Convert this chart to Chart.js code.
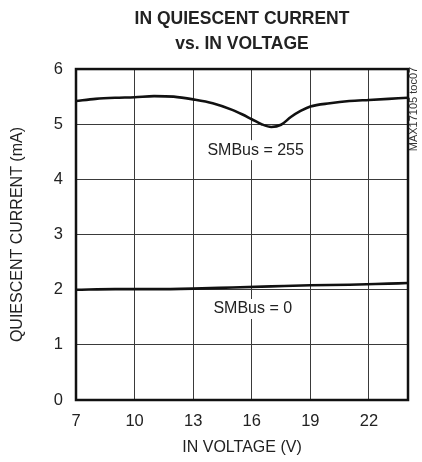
<!DOCTYPE html>
<html lang="en">
<head>
    <meta charset="UTF-8">
    <title>IN Quiescent Current vs. IN Voltage</title>
    <script src="https://cdn.jsdelivr.net/npm/chart.js@4.4.0/dist/chart.umd.min.js"></script>
    <style>
        body { margin: 0; background: #fff; }
        canvas { display: block; }
    </style>
</head>
<body>
    <canvas id="qcChart" width="422" height="462"></canvas>

    <script>
        // Data
        const voltHigh = [7, 8, 9, 10, 11, 12, 13, 14, 15, 15.5, 16, 16.5, 17, 17.5, 18, 18.5, 19, 20, 21, 22, 23, 24];
        const currHigh = [5.42, 5.46, 5.48, 5.49, 5.51, 5.50, 5.45, 5.38, 5.26, 5.18, 5.09, 5.00, 4.95, 4.99, 5.13, 5.24, 5.32, 5.38, 5.42, 5.44, 5.46, 5.48];
        const voltLow = [7, 9, 11, 13, 15, 17, 19, 21, 23, 24];
        const currLow = [2.00, 2.01, 2.01, 2.02, 2.04, 2.06, 2.08, 2.09, 2.11, 2.12];

        const xTicks = [7, 10, 13, 16, 19, 22];
        const yTicks = [0, 1, 2, 3, 4, 5, 6];

        // curve labels, placed in data units
        const noteText = ['SMBus = 255', 'SMBus = 0'];
        const noteX = [16.2, 16.05];
        const noteY = [4.53, 1.65];

        const family = '"Liberation Sans", Arial, sans-serif';

        const toPoints = (xs, ys) => xs.map((x, i) => ({x: x, y: ys[i]}));

        // box around the plot, curve labels and the side tag
        const extras = {
            id: 'extras',
            beforeDatasetsDraw(chart) {
                const {ctx, chartArea: a} = chart;
                ctx.save();
                ctx.strokeStyle = '#111';
                ctx.lineWidth = 2.5;
                ctx.strokeRect(a.left, a.top, a.right - a.left, a.bottom - a.top);
                ctx.restore();
            },
            afterDraw(chart) {
                const {ctx, chartArea: a} = chart;
                const xs = chart.scales.x, ys = chart.scales.y;
                ctx.save();
                ctx.font = '16px ' + family;
                ctx.textAlign = 'center';
                ctx.textBaseline = 'middle';
                noteText.forEach((t, i) => {
                    const px = xs.getPixelForValue(noteX[i]);
                    const py = ys.getPixelForValue(noteY[i]);
                    const w = ctx.measureText(t).width;
                    ctx.fillStyle = '#fff';
                    ctx.fillRect(px - w / 2 - 3, py - 10, w + 6, 20);
                    ctx.fillStyle = '#222';
                    ctx.fillText(t, px, py);
                });
                // side tag
                ctx.translate(a.right + 6, a.top + 40);
                ctx.rotate(-Math.PI / 2);
                ctx.font = '11px ' + family;
                ctx.fillStyle = '#333';
                ctx.fillText('MAX17105 toc07', 0, 0);
                ctx.restore();
            }
        };

        new Chart(document.getElementById('qcChart'), {
            type: 'line',
            data: {
                datasets: [
                    {
                        label: 'SMBus = 255',
                        data: toPoints(voltHigh, currHigh),
                        borderColor: '#111',
                        borderWidth: 2.6,
                        pointRadius: 0,
                        cubicInterpolationMode: 'monotone'
                    },
                    {
                        label: 'SMBus = 0',
                        data: toPoints(voltLow, currLow),
                        borderColor: '#111',
                        borderWidth: 2.6,
                        pointRadius: 0,
                        cubicInterpolationMode: 'monotone'
                    }
                ]
            },
            options: {
                responsive: false,
                animation: false,
                layout: { padding: { left: 0, right: 14, top: 0, bottom: 0 } },
                plugins: {
                    legend: { display: false },
                    tooltip: { enabled: false },
                    title: {
                        display: true,
                        fullSize: false,
                        text: ['IN QUIESCENT CURRENT', 'vs. IN VOLTAGE'],
                        color: '#222',
                        font: { family: family, size: 17.5, weight: 'bold', lineHeight: 1.43 },
                        padding: { top: 7, bottom: 12 }
                    }
                },
                scales: {
                    x: {
                        type: 'linear',
                        min: 7,
                        max: 24,
                        afterBuildTicks: (scale) => { scale.ticks = xTicks.map(v => ({value: v})); },
                        afterFit: (scale) => { scale.height = 62; },
                        border: { display: false },
                        grid: { color: '#3a3a3a', lineWidth: 1, drawTicks: false },
                        ticks: { color: '#222', padding: 12, maxRotation: 0, font: { family: family, size: 16.5 } },
                        title: {
                            display: true,
                            text: 'IN VOLTAGE (V)',
                            color: '#222',
                            font: { family: family, size: 16 },
                            padding: { top: 0, bottom: 5 }
                        }
                    },
                    y: {
                        type: 'linear',
                        min: 0,
                        max: 6,
                        afterBuildTicks: (scale) => { scale.ticks = yTicks.map(v => ({value: v})); },
                        afterFit: (scale) => { scale.width = 76; },
                        border: { display: false },
                        grid: { color: '#3a3a3a', lineWidth: 1, drawTicks: false },
                        ticks: { color: '#222', padding: 13, font: { family: family, size: 16.5 } },
                        title: {
                            display: true,
                            text: 'QUIESCENT CURRENT (mA)',
                            color: '#222',
                            font: { family: family, size: 16 },
                            padding: { top: 8, bottom: 0 }
                        }
                    }
                }
            },
            plugins: [extras]
        });
    </script>
</body>
</html>
